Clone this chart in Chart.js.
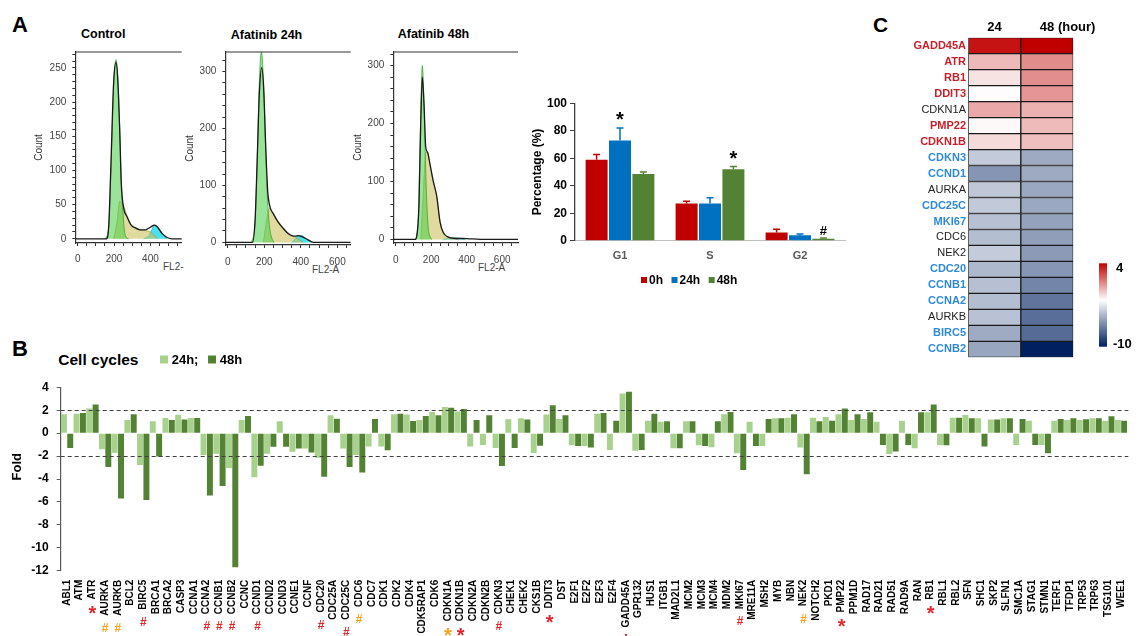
<!DOCTYPE html>
<html>
<head>
<meta charset="utf-8">
<title>Afatinib cell cycle</title>
<script src="https://cdn.jsdelivr.net/npm/chart.js@4.4.1/dist/chart.umd.min.js"></script>
<style>
  body { margin: 0; background: #fff; }
  #page { position: relative; width: 1142px; height: 636px; overflow: hidden; font-family: "Liberation Sans", Arial, sans-serif; }
  #page canvas { position: absolute; }
  .t { position: absolute; line-height: 1; white-space: nowrap; color: #000; }
  .b { font-weight: bold; }
  .fl { font-size: 10px; color: #444; }
</style>
</head>
<body>
<div id="page">
  <div class="t b" style="left:12px;top:13.7px;font-size:22px">A</div>
  <div class="t b" style="left:81px;top:28.4px;font-size:12.5px">Control</div>
  <div class="t b" style="left:230.7px;top:28.7px;font-size:12.5px">Afatinib 24h</div>
  <div class="t b" style="left:397.7px;top:28.4px;font-size:12.5px">Afatinib 48h</div>
  <div class="t fl" style="left:163px;top:261.5px">FL2-</div>
  <div class="t fl" style="left:312px;top:264.5px">FL2-A</div>
  <div class="t fl" style="left:478px;top:262.5px">FL2-A</div>
  <div class="t b" style="left:12px;top:338.1px;font-size:22px">B</div>
  <div class="t b" style="left:58.3px;top:351.9px;font-size:15.5px">Cell cycles</div>
  <div class="t b" style="left:873px;top:13.9px;font-size:21px">C</div>

  <canvas id="h1" width="160" height="235" style="left:25px;top:40px"></canvas>
  <canvas id="h2" width="180" height="235" style="left:175px;top:40px"></canvas>
  <canvas id="h3" width="180" height="235" style="left:343px;top:40px"></canvas>
  <canvas id="cA" width="360" height="200" style="left:490px;top:90px"></canvas>
  <canvas id="cB" width="1142" height="296" style="left:0px;top:340px"></canvas>
  <canvas id="cC" width="272" height="370" style="left:870px;top:0px"></canvas>
</div>
<script>
// ---------- A: flow cytometry histograms (FL2-A, count) ----------
var ctrlX = [-13, 158, 171, 183, 198, 211, 220, 231, 240, 253, 272, 294, 317, 345, 372, 400, 422, 440, 464, 492, 519, 574];
var ctrlTotal = [0, 0, 20, 110, 230, 258, 235, 160, 80, 45, 32, 20, 16, 13, 13, 17, 20, 17, 8, 2, 0, 0];
var ctrlG1X = [152, 171, 183, 198, 211, 220, 231, 240, 250, 257, 268, 281];
var ctrlG1 = [0, 18, 100, 225, 262, 240, 165, 85, 35, 12, 2, 0];
var ctrlSX = [198, 217, 231, 244, 257, 272, 294, 317, 345, 372, 391, 409, 428, 440];
var ctrlS = [0, 25, 55, 52, 45, 33, 21, 17, 13, 12, 11, 8, 3, 0];
var ctrlG2X = [363, 391, 409, 422, 437, 455, 473, 492];
var ctrlG2 = [0, 5, 14, 20, 18, 10, 4, 0];

var a24X = [-13, 135, 150, 162, 173, 186, 197, 208, 219, 232, 250, 277, 305, 332, 350, 369, 387, 405, 432, 460, 478, 673];
var a24Total = [0, 0, 40, 150, 260, 307, 270, 170, 90, 62, 50, 35, 24, 15, 12, 11, 12, 10, 6, 1, 0, 0];
var a24G1X = [131, 150, 162, 173, 184, 195, 206, 217, 228, 241, 254];
var a24G1 = [0, 35, 150, 280, 335, 290, 180, 80, 30, 8, 0];
var a24SX = [195, 214, 228, 241, 259, 286, 314, 341, 359, 378, 396, 414];
var a24S = [0, 40, 60, 55, 45, 33, 22, 14, 11, 8, 4, 0];
var a24G2X = [350, 369, 387, 405, 423, 442, 460];
var a24G2 = [0, 6, 12, 12, 8, 3, 0];

var a48X = [-13, 109, 118, 131, 141, 150, 160, 169, 180, 193, 212, 231, 250, 268, 297, 325, 400, 475, 689];
var a48Total = [0, 0, 5, 60, 200, 280, 230, 160, 150, 130, 100, 75, 30, 12, 4, 2, 1.5, 0, 0];
var a48G1X = [115, 128, 139, 150, 160, 171, 182, 193, 205];
var a48G1 = [0, 40, 190, 300, 230, 100, 25, 5, 0];
var a48SX = [141, 156, 169, 180, 193, 212, 231, 250, 268, 297, 325, 353];
var a48S = [0, 80, 150, 150, 130, 100, 73, 30, 12, 3, 1, 0];
var a48G2X = [268, 297, 325, 362, 391];
var a48G2 = [0, 2, 2.5, 2, 0];

// ---------- A: phase distribution (%) ----------
var phases = ["G1", "S", "G2"];
var pct0h = [59, 27, 6];
var pct24h = [73, 27, 4];
var pct48h = [48.5, 52, 1.5];
var sd0h = [3.7, 1.7, 2.3];
var sd24h = [9, 4.3, 0.8];
var sd48h = [1.5, 2, 0.5];
var sigPhase = ["G1", "S", "G2"];
var sigSeries = [1, 2, 2];
var sigSymbol = ["*", "*", "#"];

// ---------- B: fold change of cell cycle genes ----------
var genes = ["ABL1", "ATM", "ATR", "AURKA", "AURKB", "BCL2", "BIRC5", "BRCA1", "BRCA2", "CASP3",
  "CCNA1", "CCNA2", "CCNB1", "CCNB2", "CCNC", "CCND1", "CCND2", "CCND3", "CCNE1", "CCNF",
  "CDC20", "CDC25A", "CDC25C", "CDC6", "CDC7", "CDK1", "CDK2", "CDK4", "CDK5RAP1", "CDK6",
  "CDKN1A", "CDKN1B", "CDKN2A", "CDKN2B", "CDKN3", "CHEK1", "CHEK2", "CKS1B", "DDIT3", "DST",
  "E2F1", "E2F2", "E2F3", "E2F4", "GADD45A", "GPR132", "HUS1", "ITGB1", "MAD2L1", "MCM2",
  "MCM3", "MCM4", "MDM2", "MKI67", "MRE11A", "MSH2", "MYB", "NBN", "NEK2", "NOTCH2",
  "PKD1", "PMP22", "PPM1D", "RAD17", "RAD21", "RAD51", "RAD9A", "RAN", "RB1", "RBL1",
  "RBL2", "SFN", "SHC1", "SKP2", "SLFN1", "SMC1A", "STAG1", "STMN1", "TERF1", "TFDP1",
  "TRP53", "TRP63", "TSG101", "WEE1"];
var fold24 = [1.65, 1.7, 2.15, -1.4, -1.7, 1.15, -2.77, 1.04, 1.32, 1.6,
  1.32, -1.9, -1.8, -3.05, 1.15, -3.85, -1.8, 1.04, -1.62, -1.35,
  -2.15, 1.57, -1.33, -1.9, -1.17, -1.17, 1.65, 1.62, 1.15, 1.85,
  2.28, 1.88, -1.17, -1.03, -1.29, 1.21, 1.29, -1.73, 1.62, 1.24,
  -1.06, -1.12, 1.7, -1.47, 3.45, -1.53, 1.09, 1.0, -1.32, 1.03,
  -1.06, -1.24, 1.65, -1.76, 1.0, -1.12, 1.29, 1.35, -1.26, 1.35,
  1.41, 1.65, 1.15, 1.24, 1.0, -1.82, 1.09, -1.32, 1.82, -1.06,
  1.35, 1.59, 1.29, 1.18, 1.29, -1.03, 1.09, -1.03, 1.09, 1.15,
  1.15, 1.29, 1.09, 1.15];
var fold48 = [-1.3, 1.76, 2.5, -2.95, -5.7, 1.65, -5.84, -2.03, 1.15, 1.2,
  1.32, -5.43, -4.6, -11.7, 1.5, -2.84, -1.18, -1.18, -1.35, -1.68,
  -3.8, 1.25, -2.95, -3.43, 1.24, -1.5, 1.7, 1.06, 1.5, 1.56,
  2.22, 2.11, 1.15, 1.56, -2.86, -1.29, 1.18, -1.09, 2.43, 1.56,
  -1.12, -1.26, 1.76, 1.09, 3.62, -1.47, 1.7, 1.03, -1.32, 1.03,
  -1.12, 1.03, 1.85, -3.21, -1.12, 1.24, 1.29, 1.65, -3.59, 1.03,
  1.09, 2.14, 1.65, 1.82, -1.03, -1.61, -1.03, 1.82, 2.49, -1.06,
  1.35, 1.29, -1.17, 1.18, 1.29, 1.24, -1.03, -1.76, 1.24, 1.29,
  1.21, 1.29, 1.47, 1.09];
var foldCut = [2, -2];
var markGenes = ["ATR", "AURKA", "AURKB", "BIRC5", "CCNA2", "CCNB1", "CCNB2", "CCND1", "CDC20", "CDC25C",
  "CDC6", "CDKN1A", "CDKN1B", "CDKN3", "DDIT3", "GADD45A", "MKI67", "NEK2", "PMP22", "RB1"];
var markSymbol = ["*", "#", "#", "#", "#", "#", "#", "#", "#", "#", "#", "*", "*", "#", "*", "*", "#", "#", "*", "*"];
var markLevel = ["p1", "p2", "p2", "p1", "p1", "p1", "p1", "p1", "p1", "p1", "p2", "p2", "p1", "p1", "p1", "p1", "p1", "p2", "p1", "p1"];

// ---------- C: heatmap ----------
var heatGenes = ["GADD45A", "ATR", "RB1", "DDIT3", "CDKN1A", "PMP22", "CDKN1B", "CDKN3", "CCND1", "AURKA",
  "CDC25C", "MKI67", "CDC6", "NEK2", "CDC20", "CCNB1", "CCNA2", "AURKB", "BIRC5", "CCNB2"];
var heatGroup = ["up", "up", "up", "up", "ns", "up", "up", "down", "down", "ns",
  "down", "down", "ns", "ns", "down", "down", "down", "ns", "down", "down"];
var heatHours = ["24", "48 (hour)"];
var heatRange = [4, -10];

var FONT = "'Liberation Sans', Arial, sans-serif";
Chart.defaults.font.family = FONT;
Chart.defaults.animation = false;
Chart.defaults.responsive = false;
Chart.defaults.plugins.legend.display = false;
Chart.defaults.plugins.tooltip.enabled = false;

function drawSym(ctx, s, x, cy, size, color) {
  ctx.save();
  ctx.font = "bold " + size + "px " + FONT;
  ctx.fillStyle = color;
  ctx.textAlign = "center";
  ctx.textBaseline = "alphabetic";
  ctx.fillText(s, x, cy + (s === "*" ? 0.56 : 0.36) * size);
  ctx.restore();
}

function drawKey(ctx, datasets, x0, yc, box, font, gapBox, gapItem) {
  ctx.save();
  ctx.font = font;
  ctx.textBaseline = "middle";
  ctx.textAlign = "left";
  var x = x0;
  datasets.forEach(function(ds) {
    ctx.fillStyle = ds.backgroundColor;
    ctx.fillRect(x, yc - box / 2, box, box);
    x += box + gapBox;
    ctx.fillStyle = "#000";
    ctx.fillText(ds.label, x, yc + 1);
    x += ctx.measureText(ds.label).width + gapItem;
  });
  ctx.restore();
}

// ---- histograms ----
var topFrame = {
  id: "topFrame",
  afterDraw: function(chart) {
    var a = chart.chartArea, ctx = chart.ctx;
    ctx.save();
    ctx.strokeStyle = "#333";
    ctx.lineWidth = 1.2;
    ctx.beginPath();
    ctx.moveTo(a.left, a.top);
    ctx.lineTo(a.right, a.top);
    ctx.stroke();
    ctx.restore();
  }
};

function flowChart(id, sets, xr, yr, yStep, yLabEvery, pad, xH, xPad, titlePad) {
  var pts = function(xs, ys) { return xs.map(function(v, i) { return {x: v, y: ys[i]}; }); };
  var fills = [false, "rgba(70,205,70,0.55)", "rgba(205,196,98,0.62)", "rgba(25,215,232,0.78)"];
  var lines = ["#1a1a1a", "rgba(40,150,40,0.85)", "rgba(160,150,60,0.8)", "rgba(20,170,190,0.9)"];
  var datasets = sets.map(function(s, k) {
    return {
      data: pts(s[0], s[1]),
      borderColor: lines[k],
      borderWidth: k === 0 ? 1.3 : 0.8,
      backgroundColor: fills[k] || "transparent",
      fill: k === 0 ? false : "origin",
      order: k
    };
  });
  return new Chart(document.getElementById(id), {
    type: "line",
    data: {datasets: datasets},
    options: {
      layout: {padding: pad},
      elements: {point: {radius: 0}, line: {cubicInterpolationMode: "monotone"}},
      scales: {
        x: {
          type: "linear", min: xr[0], max: xr[1],
          afterBuildTicks: function(s) {
            s.ticks = [];
            for (var v = 0; v <= s.max; v += 50) s.ticks.push({value: v});
          },
          ticks: {autoSkip: false, maxRotation: 0, padding: xPad, color: "#444", font: {size: 10},
            callback: function(v) { return v % 200 === 0 ? v : ""; }},
          grid: {drawOnChartArea: false, tickLength: 3, color: "#333"},
          border: {color: "#333", width: 1.2},
          afterFit: function(s) { s.height = xH; }
        },
        y: {
          min: yr[0], max: yr[1],
          afterBuildTicks: function(s) {
            s.ticks = [];
            for (var v = 0; v <= s.max; v += yStep) s.ticks.push({value: v});
          },
          ticks: {autoSkip: false, padding: 6, color: "#444", font: {size: 10},
            callback: function(v) { return v % yLabEvery === 0 ? v : ""; }},
          grid: {drawOnChartArea: false, tickLength: 3, color: "#333"},
          border: {color: "#333", width: 1.2},
          title: {display: true, text: "Count", color: "#333", font: {size: 10}, padding: {top: titlePad, bottom: 0}},
          afterFit: function(s) { s.width = 50.3; }
        }
      }
    },
    plugins: [topFrame]
  });
}

flowChart("h1", [[ctrlX, ctrlTotal], [ctrlG1X, ctrlG1], [ctrlSX, ctrlS], [ctrlG2X, ctrlG2]],
  [-13, 572], [-6.1, 273.2], 10, 50, {left: 0, top: 7, right: 3.3, bottom: 0}, 32, 7, 8);
flowChart("h2", [[a24X, a24Total], [a24G1X, a24G1], [a24SX, a24S], [a24G2X, a24G2]],
  [-13, 673], [-4.6, 334.3], 20, 100, {left: 0, top: 7.3, right: 4.3, bottom: 0}, 30, 8, 9);
flowChart("h3", [[a48X, a48Total], [a48G1X, a48G1], [a48SX, a48S], [a48G2X, a48G2]],
  [-13.5, 689], [-6.2, 323.5], 20, 100, {left: 0, top: 6.7, right: 5, bottom: 0}, 32, 8, 9);

// ---- phase bar chart ----
var errBars = {
  id: "errBars",
  afterDatasetsDraw: function(chart) {
    var ctx = chart.ctx, y = chart.scales.y;
    var sds = [sd0h, sd24h, sd48h];
    ctx.save();
    chart.data.datasets.forEach(function(ds, i) {
      chart.getDatasetMeta(i).data.forEach(function(bar, j) {
        var top = y.getPixelForValue(ds.data[j] + sds[i][j]);
        ctx.strokeStyle = ds.backgroundColor;
        ctx.lineWidth = 1.5;
        ctx.beginPath();
        ctx.moveTo(bar.x, bar.y);
        ctx.lineTo(bar.x, top);
        ctx.moveTo(bar.x - 3.5, top);
        ctx.lineTo(bar.x + 3.5, top);
        ctx.stroke();
      });
    });
    ctx.restore();
    sigPhase.forEach(function(p, k) {
      var j = phases.indexOf(p), i = sigSeries[k];
      var bar = chart.getDatasetMeta(i).data[j];
      var top = y.getPixelForValue(chart.data.datasets[i].data[j] + sds[i][j]);
      var star = sigSymbol[k] === "*";
      drawSym(chart.ctx, sigSymbol[k], bar.x, top - (star ? 13 : 8), star ? 20 : 13, "#000");
    });
    drawKey(chart.ctx, chart.data.datasets, 151, 190, 6, "bold 12px " + FONT, 2, 8.5);
  }
};

new Chart(document.getElementById("cA"), {
  type: "bar",
  data: {
    labels: phases,
    datasets: [
      {label: "0h", data: pct0h, backgroundColor: "#c00000"},
      {label: "24h", data: pct24h, backgroundColor: "#0070c0"},
      {label: "48h", data: pct48h, backgroundColor: "#548235"}
    ]
  },
  options: {
    layout: {padding: {top: 13.3, right: 5, left: 0, bottom: 0}},
    datasets: {bar: {categoryPercentage: 0.78, barPercentage: 0.94}},
    scales: {
      x: {
        grid: {display: false, drawTicks: false},
        border: {display: true, color: "#bfbfbf"},
        ticks: {color: "#595959", font: {size: 11, weight: "bold"}, padding: 9},
        afterFit: function(s) { s.height = 49.3; }
      },
      y: {
        min: 0, max: 100,
        ticks: {stepSize: 20, color: "#000", font: {size: 12, weight: "bold"}, padding: 3},
        grid: {drawOnChartArea: false, tickLength: 5, color: "#404040"},
        border: {color: "#404040", width: 1.3},
        title: {display: true, text: "Percentage (%)", color: "#000", font: {size: 12, weight: "bold"}, padding: {top: 40, bottom: 0}},
        afterFit: function(s) { s.width = 85; }
      }
    }
  },
  plugins: [errBars]
});

// ---- fold change bar chart ----
var foldDecor = {
  id: "foldDecor",
  afterDatasetsDraw: function(chart) {
    var ctx = chart.ctx, a = chart.chartArea, y = chart.scales.y, x = chart.scales.x;
    ctx.save();
    ctx.strokeStyle = "#404040";
    ctx.lineWidth = 1;
    ctx.setLineDash([4, 3]);
    foldCut.forEach(function(v) {
      var py = Math.round(y.getPixelForValue(v)) + 0.5;
      ctx.beginPath();
      ctx.moveTo(a.left, py);
      ctx.lineTo(a.right + 1, py);
      ctx.stroke();
    });
    ctx.setLineDash([]);
    // y title
    ctx.translate(17, 126.7);
    ctx.rotate(-Math.PI / 2);
    ctx.font = "bold 13px " + FONT;
    ctx.fillStyle = "#000";
    ctx.textAlign = "center";
    ctx.textBaseline = "middle";
    ctx.fillText("Fold", 0, 0);
    ctx.restore();
    // significance marks under gene names
    ctx.save();
    ctx.font = "bold 10px " + FONT;
    var widths = markGenes.map(function(g) { return ctx.measureText(g).width; });
    ctx.restore();
    markGenes.forEach(function(g, k) {
      var i = genes.indexOf(g);
      var px = x.getPixelForTick(i);
      var star = markSymbol[k] === "*";
      var cy = x.top + 9 + widths[k] + (star ? 9 : 12);
      drawSym(ctx, markSymbol[k], px, cy, star ? 20 : 12, markLevel[k] === "p1" ? "#e3262b" : "#f7a21b");
    });
    drawKey(ctx, chart.data.datasets, 160, 19.5, 8, "bold 13px " + FONT, 3.7, 9.6);
  }
};

new Chart(document.getElementById("cB"), {
  type: "bar",
  data: {
    labels: genes,
    datasets: [
      {label: "24h;", data: fold24, backgroundColor: "#a9d18e"},
      {label: "48h", data: fold48, backgroundColor: "#548235"}
    ]
  },
  options: {
    layout: {padding: {top: 47.3, right: 1, left: 0, bottom: 0}},
    datasets: {bar: {categoryPercentage: 1, barPercentage: 0.94}},
    scales: {
      x: {
        grid: {display: false, drawTicks: false},
        border: {display: false},
        ticks: {autoSkip: false, minRotation: 90, maxRotation: 90, padding: 9, color: "#000", font: {size: 10, weight: "bold"}},
        afterFit: function(s) { s.height = 65.3; }
      },
      y: {
        min: -12, max: 4,
        ticks: {stepSize: 2, color: "#000", font: {size: 12, weight: "bold"}, padding: 8},
        grid: {drawOnChartArea: false, tickLength: 4, color: "#595959"},
        border: {color: "#595959", width: 1.2},
        afterFit: function(s) { s.width = 60.7; }
      }
    }
  },
  plugins: [foldDecor]
});

// ---- heatmap ----
function mix(c1, c2, t) {
  return "rgb(" + c1.map(function(c, i) { return Math.round(c + (c2[i] - c) * t); }).join(",") + ")";
}
function heatColor(v) {
  var white = [255, 255, 255];
  if (v >= 1.6) return mix(white, [192, 0, 0], Math.min(1, (v - 1.6) / 2.0));
  if (v <= 1.2) return mix(white, [0, 32, 96], Math.min(1, (1.2 - v) / 10.6));
  return "rgb(255,255,255)";
}
var heat24 = heatGenes.map(function(g) { return fold24[genes.indexOf(g)]; });
var heat48 = heatGenes.map(function(g) { return fold48[genes.indexOf(g)]; });

var heatDecor = {
  id: "heatDecor",
  afterDraw: function(chart) {
    var ctx = chart.ctx, x = chart.scales.x;
    ctx.save();
    ctx.font = "bold 13px " + FONT;
    ctx.fillStyle = "#000";
    ctx.textBaseline = "alphabetic";
    ctx.textAlign = "center";
    ctx.fillText(heatHours[0], x.getPixelForValue(0.5), 30.5);
    ctx.textAlign = "left";
    var c2 = x.getPixelForValue(1.5);
    ctx.fillText(heatHours[1], c2 - ctx.measureText(heatHours[1].split(" ")[0]).width / 2, 30.5);
    // colour key
    var g = ctx.createLinearGradient(0, 263.3, 0, 346.7);
    g.addColorStop(0, "#c00000");
    g.addColorStop(0.44, "#ffffff");
    g.addColorStop(1, "#002060");
    ctx.fillStyle = g;
    ctx.fillRect(229, 263.3, 8, 83.4);
    ctx.fillStyle = "#000";
    ctx.font = "bold 13px " + FONT;
    ctx.fillText(String(heatRange[0]), 246, 272);
    ctx.fillText(String(heatRange[1]), 243, 348);
    ctx.restore();
  }
};

new Chart(document.getElementById("cC"), {
  type: "bar",
  data: {
    labels: heatGenes,
    datasets: [
      {data: heatGenes.map(function() { return [0, 1]; }), backgroundColor: heat24.map(heatColor)},
      {data: heatGenes.map(function() { return [1, 2]; }), backgroundColor: heat48.map(heatColor)}
    ]
  },
  options: {
    indexAxis: "y",
    layout: {padding: {top: 37.7, right: 68.7, bottom: 12.7, left: 0}},
    datasets: {bar: {grouped: false, categoryPercentage: 1, barPercentage: 1, borderColor: "#1a1a1a", borderWidth: 1, borderSkipped: false}},
    scales: {
      x: {display: false, min: 0, max: 2},
      y: {
        grid: {display: false, drawTicks: false},
        border: {display: false},
        ticks: {
          autoSkip: false,
          padding: 2.3,
          color: function(c) { var k = heatGroup[c.index]; return k === "up" ? "#c8202a" : (k === "down" ? "#2f8ad4" : "#222"); },
          font: function(c) { return {size: 11, weight: heatGroup[c.index] === "ns" ? "normal" : "bold"}; }
        },
        afterFit: function(s) { s.width = 98.3; }
      }
    }
  },
  plugins: [heatDecor]
});
</script>
</body>
</html>
